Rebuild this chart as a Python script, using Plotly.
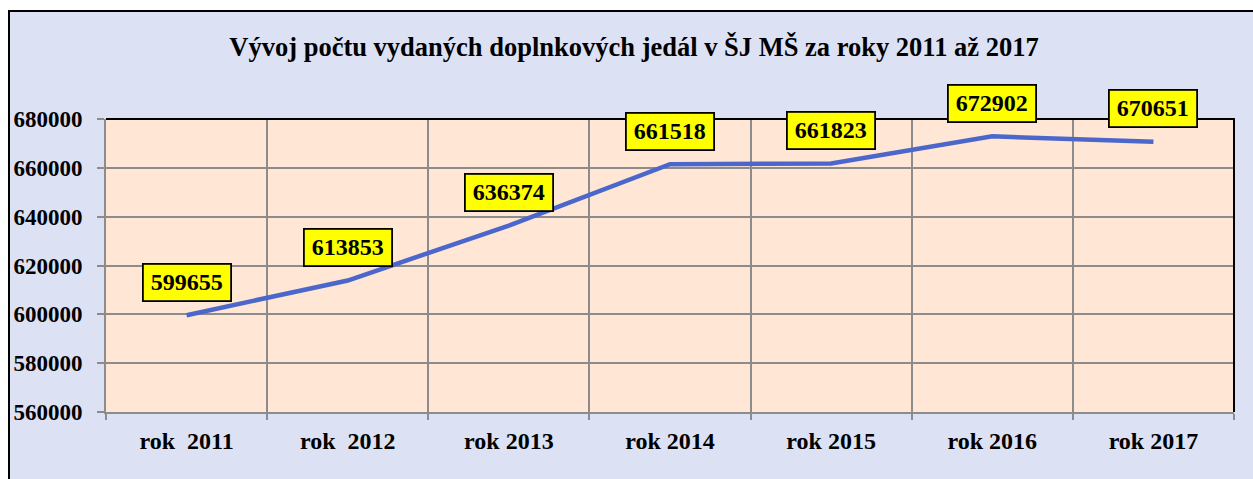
import plotly.graph_objects as go

categories = ["rok\u00a0\u00a02011", "rok\u00a0\u00a02012", "rok 2013", "rok 2014", "rok 2015", "rok 2016", "rok 2017"]
values = [599655, 613853, 636374, 661518, 661823, 672902, 670651]
y_ticks = [560000, 580000, 600000, 620000, 640000, 660000, 680000]

title_text = "Vývoj počtu vydaných doplnkových jedál v ŠJ MŠ za roky 2011 až 2017"

FONT = "Liberation Serif"
W, H = 1253, 479
ML, MR, MT, MB = 106, 19, 119, 67
pw = W - ML - MR
ph = H - MT - MB

fig = go.Figure()
fig.add_trace(go.Scatter(
    x=categories, y=values, mode="lines",
    line=dict(color="#4B67CC", width=4.5),
    hoverinfo="x+y", showlegend=False,
))

for c, v in zip(categories, values):
    fig.add_annotation(
        x=c, y=v, xref="x", yref="y", text=f"<b>{v}</b>", showarrow=False,
        xanchor="center", yanchor="middle", yshift=33,
        font=dict(family=FONT, size=24, color="black"),
        bgcolor="#FFFF00", bordercolor="black", borderwidth=1.8, borderpad=2,
        width=82, height=31,
    )

# outer lavender background with black border
fig.add_shape(type="rect", xref="paper", yref="paper",
              x0=(9 - ML) / pw, x1=1 + (MR + 20) / pw,
              y0=-(MB + 20) / ph, y1=1 + (MT - 11) / ph,
              fillcolor="#DCE1F4", line=dict(color="black", width=2), layer="below")
# plot area peach
fig.add_shape(type="rect", xref="paper", yref="paper", x0=0, x1=1, y0=0, y1=1,
              fillcolor="#FFE6D5", line=dict(width=0), layer="below")
# black top and right border of plot area
fig.add_shape(type="path", xref="paper", yref="paper", path="M 0,1 L 1,1 L 1,0",
              line=dict(color="black", width=2), layer="above")

fig.update_layout(
    width=W, height=H,
    margin=dict(l=ML, r=MR, t=MT, b=MB, autoexpand=False),
    paper_bgcolor="white", plot_bgcolor="rgba(0,0,0,0)",
    title=dict(text=f"<b>{title_text}</b>", x=634 / W, xanchor="center",
               y=1 - 47 / H, yanchor="middle", xref="container", yref="container",
               font=dict(family=FONT, size=26.5, color="black")),
    font=dict(family=FONT, color="black"),
)
fig.update_xaxes(
    type="category", range=[-0.5, len(categories) - 0.5],
    tickson="boundaries", showgrid=True, gridcolor="#8C8C8C", gridwidth=1.5,
    ticks="outside", ticklen=6, tickcolor="#8C8C8C", tickwidth=1.5,
    showline=True, linecolor="#8C8C8C", linewidth=2, automargin=False,
    tickfont=dict(family=FONT, size=24, color="black"),
    tickprefix="<b>", ticksuffix="</b>", ticklabelstandoff=6,
)
fig.update_yaxes(
    range=[560000, 680000], tickvals=y_ticks, ticktext=[f"<b>{t}</b>" for t in y_ticks],
    showgrid=True, gridcolor="#8C8C8C", gridwidth=1.5, zeroline=False,
    ticks="outside", ticklen=7, tickcolor="#8C8C8C", tickwidth=1.5,
    showline=True, linecolor="#8C8C8C", linewidth=2, automargin=False,
    tickfont=dict(family=FONT, size=23, color="black"), ticklabelstandoff=10,
)

fig.write_html("out.html", config={"displayModeBar": False},
               post_script="document.body.style.margin='0';document.body.style.overflow='hidden';")
